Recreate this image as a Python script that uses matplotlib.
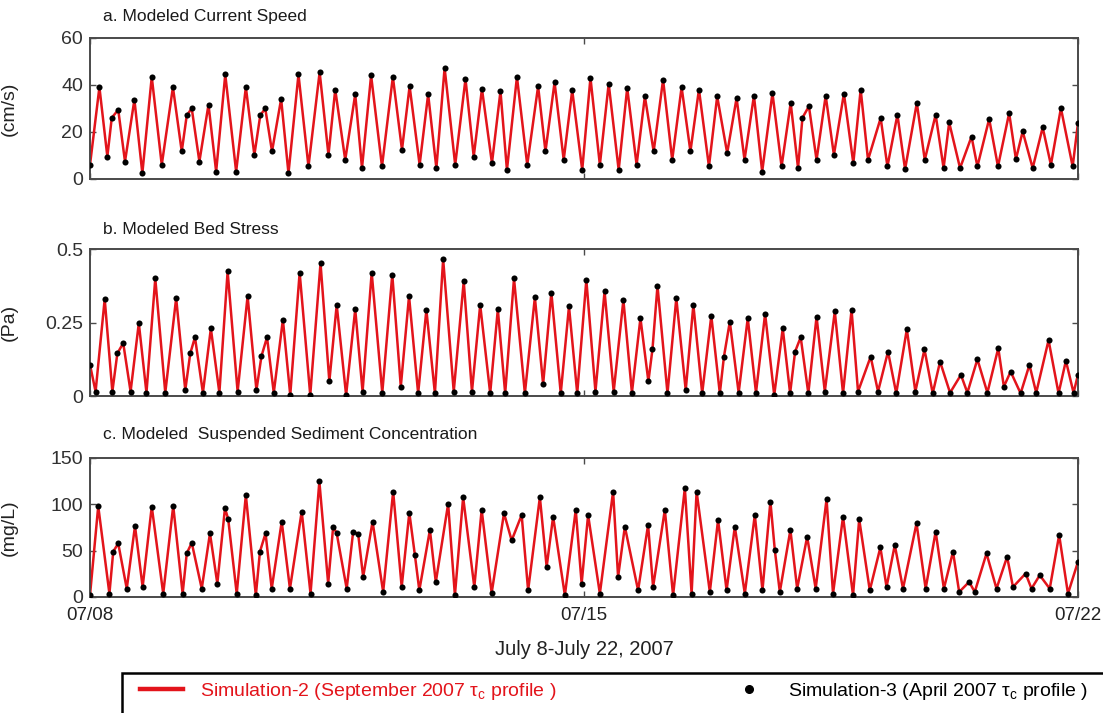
import numpy as np
import pandas as pd
import matplotlib
matplotlib.use("Agg")
import matplotlib.pyplot as plt
import matplotlib.dates as mdates
from matplotlib.lines import Line2D
from matplotlib.patches import Rectangle


# ── Datos (puntos de giro, horas desde 07/08 00:00) ──────────────────────────

SPEED_HOURS = [0.0, 3.2, 5.9, 7.4, 9.6, 11.9, 15.1, 17.8, 21.0, 24.4,
               28.2, 31.2, 32.9, 34.6, 37.2, 40.3, 42.9, 46.0, 49.7, 53.0,
               55.9, 57.9, 59.6, 61.9, 65.0, 67.5, 70.9, 74.3, 78.1, 81.1,
               83.4, 86.8, 90.2, 92.5, 95.6, 99.3, 103.0, 106.1, 108.7, 112.1,
               115.0, 117.8, 120.6, 124.2, 127.7, 130.5, 133.3, 136.7, 139.6, 141.8,
               145.2, 148.7, 152.4, 154.9, 158.0, 161.1, 164.0, 167.4, 170.2, 173.4,
               176.4, 179.8, 182.7, 185.9, 188.7, 191.7, 194.9, 198.0, 201.2, 204.2,
               207.1, 210.5, 213.3, 216.7, 219.9, 222.6, 225.8, 228.6, 232.1, 235.2,
               238.3, 240.8, 242.3, 244.5, 247.1, 250.2, 253.0, 256.4, 259.6, 262.1,
               264.6, 268.9, 271.2, 274.6, 277.2, 281.2, 283.9, 287.6, 290.3, 292.2,
               295.9, 299.8, 301.8, 305.8, 308.8, 312.6, 314.9, 317.2, 320.6, 324.0,
               326.8, 330.2, 334.2, 336.0]
SPEED_CMS = [6, 39, 9.5, 26, 29.4, 7.4, 33.7, 2.4, 43.4, 6,
             39, 11.7, 27, 30, 7.4, 31.6, 3.1, 44.4, 3.1, 39,
             10.2, 27, 30, 11.7, 34, 2.4, 44.4, 5.3, 45.4, 10.2,
             38, 8.1, 36, 4.6, 44, 5.3, 43.4, 12.4, 39.4, 6,
             36, 4.6, 47.2, 6, 42.5, 9.5, 38.3, 6.7, 37.3, 3.8,
             43.4, 6, 39.4, 11.7, 41.1, 8.1, 37.7, 3.8, 43, 6,
             40.5, 3.8, 38.7, 6, 35.1, 11.7, 42.2, 8.1, 39, 11.7,
             38, 5.3, 35.1, 11, 34.4, 8.1, 35.4, 3.1, 36.5, 5.3,
             32.3, 4.6, 26, 30.9, 8.1, 35.4, 10.2, 36.3, 6.7, 38,
             8.1, 25.9, 5.3, 27.3, 4.1, 32.3, 8.1, 27.3, 4.6, 24,
             4.6, 18, 5.3, 25.5, 5.3, 28, 8.4, 20.2, 4.6, 21.9,
             6, 30.1, 5.3, 23.7]

STRESS_HOURS = [0.0, 1.9, 5.0, 7.6, 9.3, 11.3, 13.8, 16.6, 19.2, 22.2,
                25.6, 29.3, 32.4, 34.1, 35.7, 38.4, 41.1, 44.0, 46.8, 50.2,
                53.6, 56.6, 58.3, 60.2, 62.5, 65.6, 68.1, 71.3, 74.9, 78.4,
                81.4, 83.9, 87.1, 90.2, 92.7, 95.8, 99.4, 102.8, 105.7, 108.5,
                111.6, 114.4, 117.3, 120.1, 123.7, 127.1, 129.9, 132.7, 136.1, 138.7,
                141.2, 144.2, 147.9, 151.3, 154.1, 156.9, 160.1, 162.9, 165.7, 168.8,
                171.9, 175.0, 178.1, 181.4, 184.3, 187.2, 189.9, 191.3, 193.0, 196.4,
                199.4, 202.6, 205.2, 208.2, 211.3, 214.2, 215.6, 217.6, 220.6, 223.7,
                226.5, 229.6, 232.7, 235.6, 238.1, 239.8, 241.7, 244.3, 247.1, 249.9,
                253.3, 256.1, 259.0, 261.2, 265.5, 268.0, 271.4, 274.2, 277.8, 280.7,
                283.8, 286.6, 289.1, 292.5, 296.2, 298.4, 301.8, 305.2, 308.9, 310.8,
                313.1, 316.5, 319.5, 321.8, 326.0, 329.4, 331.9, 334.5, 336.0]
STRESS_PA = [0.106, 0.015, 0.33, 0.015, 0.145, 0.18, 0.015, 0.248, 0.011, 0.40,
             0.011, 0.333, 0.02, 0.145, 0.2, 0.011, 0.23, 0.011, 0.424, 0.015,
             0.34, 0.02, 0.135, 0.2, 0.011, 0.26, 0.003, 0.42, 0.003, 0.452,
             0.05, 0.31, 0.003, 0.295, 0.015, 0.42, 0.011, 0.413, 0.032, 0.34,
             0.009, 0.293, 0.009, 0.466, 0.015, 0.39, 0.015, 0.31, 0.009, 0.295,
             0.009, 0.40, 0.009, 0.336, 0.04, 0.352, 0.009, 0.305, 0.009, 0.395,
             0.015, 0.356, 0.015, 0.327, 0.011, 0.265, 0.05, 0.16, 0.375, 0.009,
             0.333, 0.02, 0.31, 0.009, 0.273, 0.009, 0.134, 0.253, 0.011, 0.265,
             0.011, 0.28, 0.003, 0.23, 0.009, 0.151, 0.2, 0.009, 0.27, 0.015,
             0.288, 0.009, 0.293, 0.015, 0.134, 0.015, 0.151, 0.009, 0.227, 0.015,
             0.159, 0.009, 0.117, 0.011, 0.072, 0.011, 0.125, 0.011, 0.163, 0.032,
             0.083, 0.009, 0.106, 0.011, 0.19, 0.009, 0.12, 0.011, 0.072]

SSC_HOURS = [0.0, 2.8, 6.6, 7.9, 9.6, 12.5, 15.3, 17.9, 21.0, 24.9,
             28.3, 31.5, 32.9, 34.6, 38.0, 40.8, 43.3, 45.9, 47.0, 49.9,
             53.0, 56.4, 57.8, 59.7, 61.8, 65.2, 68.0, 72.0, 75.0, 78.0,
             81.0, 82.7, 83.9, 87.3, 89.5, 91.2, 92.9, 96.1, 99.7, 103.1,
             106.0, 108.6, 110.5, 112.0, 115.6, 117.6, 121.8, 124.1, 126.9, 130.7,
             133.2, 136.6, 140.8, 143.4, 146.8, 149.0, 153.0, 155.3, 157.5, 161.5,
             165.2, 167.2, 169.4, 173.4, 177.9, 179.6, 181.9, 186.4, 189.8, 191.5,
             195.5, 198.3, 202.3, 204.6, 206.3, 210.8, 213.6, 216.5, 219.3, 222.7,
             226.1, 228.7, 231.4, 232.9, 234.6, 238.2, 240.5, 243.9, 246.8, 250.5,
             252.7, 256.1, 259.5, 261.6, 265.2, 268.8, 270.9, 273.7, 276.5, 281.1,
             284.2, 287.6, 290.4, 293.5, 295.6, 299.0, 300.9, 304.9, 308.3, 311.9,
             313.9, 318.2, 320.2, 323.0, 326.4, 329.6, 332.6, 336.0]
SSC_MGL = [2, 98, 3.6, 49, 57.8, 9, 76.6, 10.8, 97.6, 3.6,
           98.3, 3.6, 47, 58.5, 9, 68.7, 14.5, 95.8, 84, 3.6,
           110, 1.8, 49, 68.7, 9, 81.3, 9, 92.2, 3.6, 124.7,
           14.5, 75.9, 68.7, 9, 70.5, 68, 21.7, 81.3, 5.4, 113.8,
           10.8, 91, 45, 7.2, 72.3, 16, 100.5, 1.8, 107.7, 10.8,
           94, 4.3, 90.4, 61, 88.5, 7.2, 107.7, 32.5, 86.7, 1.8,
           94, 14.5, 88.5, 3.6, 113.8, 21.7, 75.9, 7.2, 77.7, 10.8,
           94, 1.8, 117.5, 3.6, 113.8, 5.4, 83.1, 7.2, 75.9, 3.6,
           88.5, 7.2, 103, 50.6, 5.4, 72.3, 9, 65, 9, 105.5,
           3.6, 86.7, 1.8, 83.8, 7.2, 53.5, 10.8, 56, 9, 79.5,
           9, 70.5, 9, 48.8, 5.4, 16.3, 5.4, 47, 9, 43.4,
           10.8, 25.3, 9, 23.5, 9, 66.9, 3.6, 37.9]

PANEL_TITLES = ["a. Modeled Current Speed",
                "b. Modeled Bed Stress",
                "c. Modeled  Suspended Sediment Concentration"]
Y_LABELS = ["(cm/s)", "(Pa)", "(mg/L)"]
Y_TICKS = [[0, 20, 40, 60], [0, 0.25, 0.5], [0, 50, 100, 150]]
Y_TICKLABELS = [["0", "20", "40", "60"], ["0", "0.25", "0.5"],
                ["0", "50", "100", "150"]]
DATE_TICKS = ["2007-07-08", "2007-07-15", "2007-07-22"]
X_LABEL = "July 8-July 22, 2007"
LEGEND_LABELS = [r"Simulation-2 (September 2007 $\mathregular{\tau_c}$ profile )",
                 r"Simulation-3 (April 2007 $\mathregular{\tau_c}$ profile )"]


# ── Estilo ───────────────────────────────────────────────────────────────────

RED = "#e3141b"
AX_COL = "#4a4a4a"
TXT = "#222222"
W, H = 1103, 713

plt.rcParams["font.family"] = ["Liberation Sans", "DejaVu Sans"]

START = pd.Timestamp("2007-07-08")


def to_dates(hours):
    return START + pd.to_timedelta(np.asarray(hours, dtype=float), unit="h")


fig = plt.figure(figsize=(W / 100, H / 100), dpi=100)

# [left, bottom, width, height] en fracción de la figura
boxes = [[0.0816, 0.749, 0.8957, 0.198],
         [0.0816, 0.4446, 0.8957, 0.206],
         [0.0816, 0.1627, 0.8957, 0.195]]
title_y = [1 - 16 / H, 1 - 229 / H, 1 - 434 / H]

series = [(SPEED_HOURS, SPEED_CMS),
          (STRESS_HOURS, STRESS_PA),
          (SSC_HOURS, SSC_MGL)]

for i, (hours, vals) in enumerate(series):
    ax = fig.add_axes(boxes[i])
    t = to_dates(hours)
    ax.plot(t, vals, "-", color=RED, linewidth=1.8, zorder=2)
    ax.plot(t, vals, "o", color="black", markersize=4.4,
            markeredgewidth=0, zorder=3)

    ax.set_xlim(START, START + pd.Timedelta(days=14))
    ax.set_ylim(Y_TICKS[i][0], Y_TICKS[i][-1])
    ax.set_yticks(Y_TICKS[i])
    ax.set_yticklabels(Y_TICKLABELS[i], fontsize=14, color="#303030")
    ax.set_xticks(pd.to_datetime(DATE_TICKS))
    ax.xaxis.set_major_formatter(mdates.DateFormatter("%m/%d"))

    ax.tick_params(direction="in", length=4, width=1, colors=AX_COL,
                   top=True, right=True, labelcolor="#303030")
    ax.tick_params(axis="y", pad=5)
    for sp in ax.spines.values():
        sp.set_color(AX_COL)
        sp.set_linewidth(1.4)

    ax.set_ylabel(Y_LABELS[i], fontsize=14, color=TXT)
    ax.yaxis.set_label_coords(-0.073, 0.5)

    fig.text(103 / W, title_y[i], PANEL_TITLES[i], fontsize=12.5,
             color="#1a1a1a", ha="left", va="center")

    if i < 2:
        ax.tick_params(labelbottom=False)
    else:
        ax.tick_params(axis="x", labelsize=13.5, pad=7, labelcolor=TXT)
        ax.set_xlabel(X_LABEL, fontsize=14.5, color=TXT)
        ax.xaxis.set_label_coords(0.5, -0.31)

# Marco de la leyenda: sólo se ven los bordes superior e izquierdo
fig.add_artist(Rectangle((122 / W, 1 - 730 / H), (1130 - 122) / W, (730 - 673) / H,
                         transform=fig.transFigure, fill=False,
                         edgecolor="black", linewidth=1.8, clip_on=False))

handles = [Line2D([], [], color=RED, linewidth=3.2),
           Line2D([], [], marker="o", linestyle="none", color="black",
                  markersize=5.5)]
leg = fig.legend(handles, LEGEND_LABELS, ncol=2, mode="expand",
                 loc="center left",
                 bbox_to_anchor=(140 / W, 1 - 698 / H, (1088 - 140) / W, 14 / H),
                 prop={"size": 14}, frameon=False, borderpad=0,
                 borderaxespad=0, handlelength=2.2, handletextpad=0.9)
leg.get_texts()[0].set_color(RED)

fig.savefig("out.png", dpi=100)
